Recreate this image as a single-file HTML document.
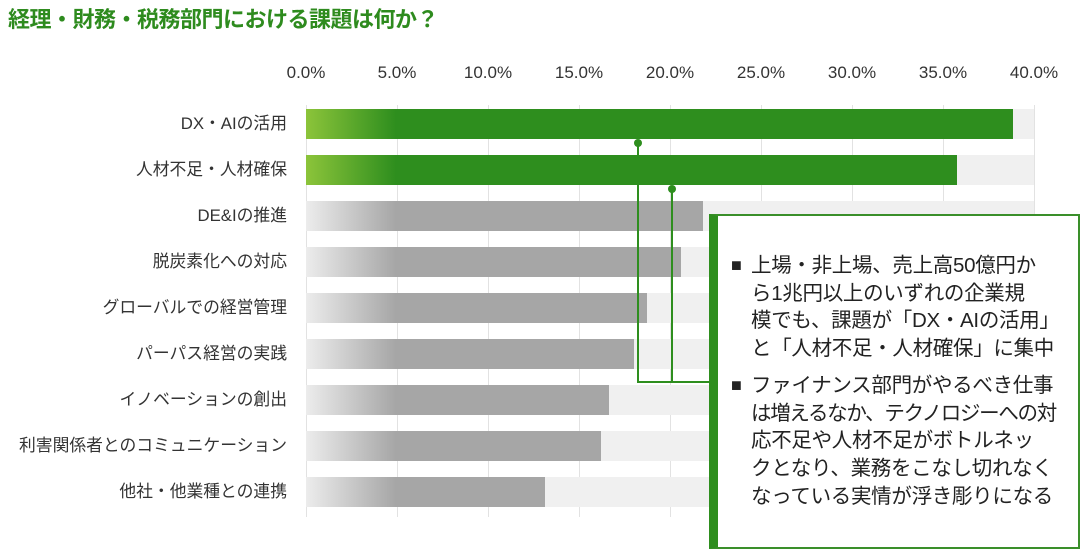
<!DOCTYPE html>
<html><head><meta charset="utf-8"><style>
body{margin:0;width:1087px;height:558px;background:#fff;overflow:hidden;position:relative;font-family:"Liberation Sans","Noto Sans CJK JP",sans-serif}
.t{position:absolute;left:8px;top:2px;font-size:22px;font-weight:bold;color:#2e8b1e;letter-spacing:-0.5px}
.tick{position:absolute;top:63px;font-size:17px;color:#333;width:70px;text-align:center}
.g{position:absolute;top:105px;height:412px;width:1px;background:#e2e2e2}
.trk{position:absolute;left:306px;width:728px;height:30px;background:#f0f0f0}
.bar{position:absolute;left:306px;height:30px}
.gr{background:linear-gradient(90deg,#8cc43a 0,#2e8e1e 90px,#2e8e1e 100%)}
.gy{background:linear-gradient(90deg,#ececec 0,#a6a6a6 90px,#a6a6a6 100%)}
.lab{position:absolute;right:800px;font-size:16.8px;color:#333;white-space:nowrap;line-height:30px}
.box{position:absolute;left:709px;top:214px;width:360px;height:331px;border:2px solid #3a8f2a;border-left:9px solid #2e8e1e;background:#fff;box-sizing:content-box}
.p{position:absolute;left:33px;font-size:20.5px;line-height:27.7px;color:#222;white-space:nowrap;letter-spacing:-0.3px}
.sq{position:absolute;left:-20px;top:0;font-size:18px}
</style></head><body>
<div class="t">経理・財務・税務部門における課題は何か？</div>
<div class="tick" style="left:271px">0.0%</div><div class="tick" style="left:362px">5.0%</div><div class="tick" style="left:453px">10.0%</div><div class="tick" style="left:544px">15.0%</div><div class="tick" style="left:635px">20.0%</div><div class="tick" style="left:726px">25.0%</div><div class="tick" style="left:817px">30.0%</div><div class="tick" style="left:908px">35.0%</div><div class="tick" style="left:999px">40.0%</div>
<div class="g" style="left:306px"></div><div class="g" style="left:397px"></div><div class="g" style="left:488px"></div><div class="g" style="left:579px"></div><div class="g" style="left:670px"></div><div class="g" style="left:761px"></div><div class="g" style="left:852px"></div><div class="g" style="left:943px"></div><div class="g" style="left:1034px"></div>

<div class="trk" style="top:109px"></div><div class="bar gr" style="top:109px;width:707px"></div><div class="lab" style="top:109px">DX・AIの活用</div>
<div class="trk" style="top:155px"></div><div class="bar gr" style="top:155px;width:651px"></div><div class="lab" style="top:155px">人材不足・人材確保</div>
<div class="trk" style="top:201px"></div><div class="bar gy" style="top:201px;width:397px"></div><div class="lab" style="top:201px">DE&amp;Iの推進</div>
<div class="trk" style="top:247px"></div><div class="bar gy" style="top:247px;width:375px"></div><div class="lab" style="top:247px">脱炭素化への対応</div>
<div class="trk" style="top:293px"></div><div class="bar gy" style="top:293px;width:341px"></div><div class="lab" style="top:293px">グローバルでの経営管理</div>
<div class="trk" style="top:339px"></div><div class="bar gy" style="top:339px;width:328px"></div><div class="lab" style="top:339px">パーパス経営の実践</div>
<div class="trk" style="top:385px"></div><div class="bar gy" style="top:385px;width:303px"></div><div class="lab" style="top:385px">イノベーションの創出</div>
<div class="trk" style="top:431px"></div><div class="bar gy" style="top:431px;width:295px"></div><div class="lab" style="top:431px">利害関係者とのコミュニケーション</div>
<div class="trk" style="top:477px"></div><div class="bar gy" style="top:477px;width:239px"></div><div class="lab" style="top:477px">他社・他業種との連携</div>

<svg style="position:absolute;left:0;top:0" width="1087" height="558">
<g stroke="#2e8e1e" stroke-width="2" fill="none"><path d="M638 143V382H710M672 189V382"/></g>
<circle cx="638" cy="143" r="4" fill="#2e8e1e"/><circle cx="672" cy="189" r="4" fill="#2e8e1e"/>
</svg>
<div class="box">
<div class="p" style="top:36px"><span class="sq">■</span>上場・非上場、売上高50億円か<br>ら1兆円以上のいずれの企業規<br>模でも、課題が「DX・AIの活用」<br>と「人材不足・人材確保」に集中</div>
<div class="p" style="top:156px"><span class="sq">■</span>ファイナンス部門がやるべき仕事<br><span style="letter-spacing:-1.3px">は増えるなか、テクノロジーへの対</span><br>応不足や人材不足がボトルネッ<br>クとなり、業務をこなし切れなく<br>なっている実情が浮き彫りになる</div>
</div>
</body></html>
